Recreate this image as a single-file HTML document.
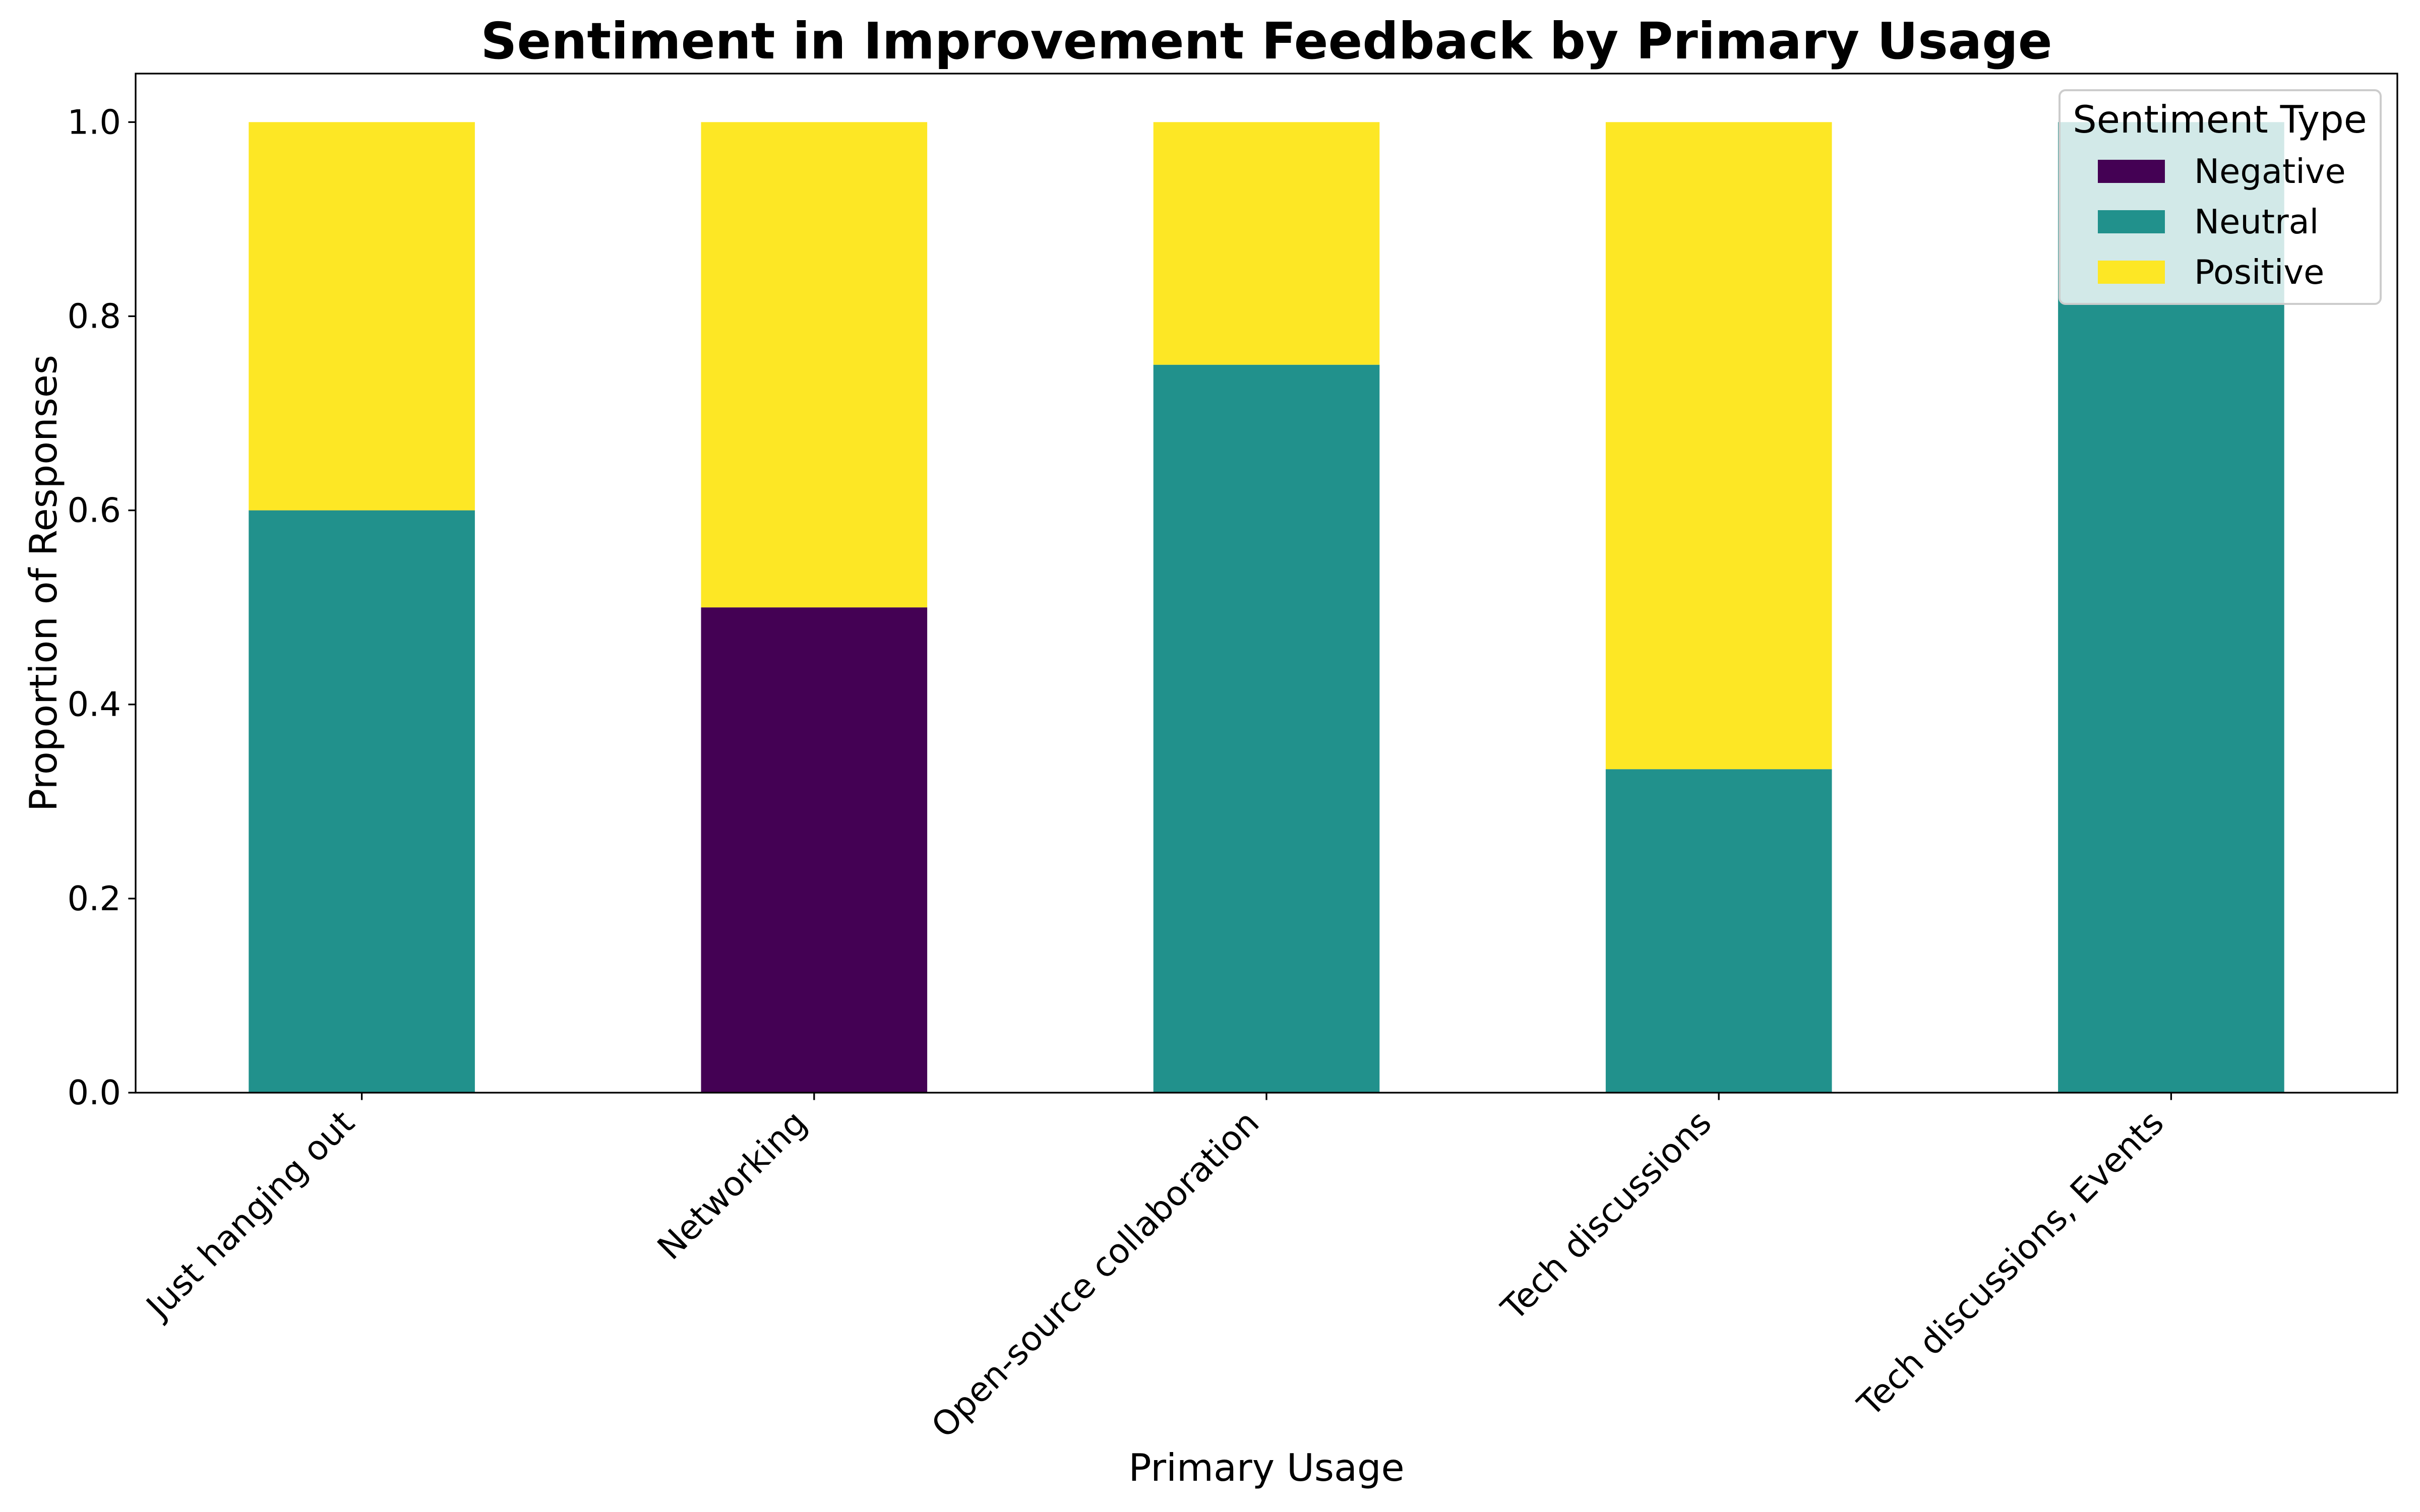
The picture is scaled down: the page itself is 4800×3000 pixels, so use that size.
<!DOCTYPE html>
<html><head><meta charset="utf-8"><style>
html,body{margin:0;padding:0;background:#fff;}
svg{display:block;font-family:"DejaVu Sans","Liberation Sans",sans-serif;}
</style></head><body>
<svg id="chart" width="4800" height="3000" viewBox="0 0 4800 3000" xmlns="http://www.w3.org/2000/svg">
<rect width="4800" height="3000" fill="#fff"/>
<text x="2512" y="116" text-anchor="middle" font-size="100" font-weight="bold">Sentiment in Improvement Feedback by Primary Usage</text>
<g id="bars"></g>
<g id="axes"></g>
<text transform="translate(86,1157) rotate(-90)" text-anchor="middle" dominant-baseline="central" font-size="75">Proportion of Responses</text>
<text x="2512" y="2938" text-anchor="middle" font-size="75">Primary Usage</text>
<g id="legend">
<rect x="4085" y="179" width="637" height="424" rx="12" fill="#fff" fill-opacity="0.8" stroke="#cccccc" stroke-width="4"/>
<text x="4403" y="263" text-anchor="middle" font-size="75">Sentiment Type</text>
</g>
</svg>
<script>
const categories = ["Just hanging out", "Networking", "Open-source collaboration", "Tech discussions", "Tech discussions, Events"];
const seriesNames = ["Negative", "Neutral", "Positive"];
const negative = [0, 0.5, 0, 0, 0];
const neutral = [0.6, 0, 0.75, 0.3333, 1.0];
const positive = [0.4, 0.5, 0.25, 0.6667, 0];
const yTicks = [0, 0.2, 0.4, 0.6, 0.8, 1.0];
const yTickLabels = ["0.0", "0.2", "0.4", "0.6", "0.8", "1.0"];

const colors = ["#440154", "#21918c", "#fde725"];
const NS = "http://www.w3.org/2000/svg";
const L = 269, R = 4755, T = 146, B = 2168;
const xMin = -0.5, xMax = categories.length - 0.5;
const yMin = 0, yMax = 1.05;
function xs(v){ return L + (v - xMin) / (xMax - xMin) * (R - L); }
function ys(v){ return B - (v - yMin) / (yMax - yMin) * (B - T); }
function mk(tag, attrs, parent){ const e = document.createElementNS(NS, tag); for (const k in attrs) e.setAttribute(k, attrs[k]); parent.appendChild(e); return e; }

const barsG = document.getElementById('bars');
const series = [negative, neutral, positive];
const bw = 0.5;
categories.forEach((c, i) => {
  let base = 0;
  series.forEach((s, j) => {
    const v = s[i];
    if (v > 0) {
      const r = mk('rect', {x: xs(i - bw/2), y: ys(base + v), width: xs(i + bw/2) - xs(i - bw/2), height: ys(base) - ys(base + v), fill: colors[j]}, barsG);
      
      
    }
    base += v;
  });
});

const axG = document.getElementById('axes');
const frame = mk('rect', {x: L, y: T, width: R - L, height: B - T, fill: 'none', stroke: '#000', 'stroke-width': 3.3}, axG);


yTicks.forEach((t, i) => {
  const y = ys(t);
  const ln = mk('line', {x1: L - 14.6, x2: L, y1: y, y2: y, stroke: '#000', 'stroke-width': 3.3}, axG);
  
  
  const tx = mk('text', {x: L - 29, y: y, 'text-anchor': 'end', 'dominant-baseline': 'central', 'font-size': 67}, axG);
  tx.textContent = yTickLabels[i];
  
  
});
categories.forEach((c, i) => {
  const x = xs(i);
  const ln = mk('line', {x1: x, x2: x, y1: B, y2: B + 14.6, stroke: '#000', 'stroke-width': 3.3}, axG);
  
  
  const px = x - 11, py = B + 64;
  const tx = mk('text', {x: px, y: py, 'text-anchor': 'end', 'font-size': 67, transform: 'rotate(-45 ' + px + ' ' + py + ')'}, axG);
  tx.textContent = c;
  
  
});

const lg = document.getElementById('legend');
seriesNames.forEach((n, j) => {
  const cy = 340 + j * 100;
  const r = mk('rect', {x: 4161, y: cy - 23, width: 133, height: 46, fill: colors[j]}, lg);
  
  
  const t = mk('text', {x: 4352, y: cy, 'dominant-baseline': 'central', 'font-size': 67}, lg);
  t.textContent = n;
  
  
});
</script>
</body></html>
